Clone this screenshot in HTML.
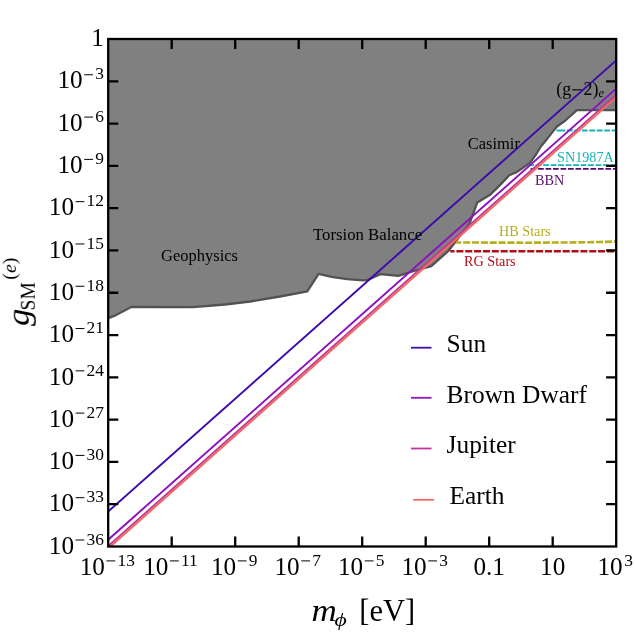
<!DOCTYPE html>
<html><head><meta charset="utf-8"><title>plot</title>
<style>html,body{margin:0;padding:0;background:#fff;}svg{display:block;}text{font-family:"Liberation Serif",serif;}</style>
</head><body>
<svg width="635" height="635" viewBox="0 0 635 635">
<rect width="635" height="635" fill="#ffffff"/>
<defs><clipPath id="cp"><rect x="108.2" y="39.0" width="508.00000000000006" height="507.5"/></clipPath></defs>
<g clip-path="url(#cp)">
<polygon points="108.2,39.0 108.2,318.2 114.2,315.9 131.2,306.9 193,307.2 225,304.5 250,301.5 280,296.5 307.3,291.3 318.6,273.9 331.5,276.8 347.2,279.1 363,280.4 367.7,279.9 380.3,274.1 398.5,275.8 412.4,271.4 431.3,266.2 448.3,251 469.7,223.2 477.3,202.4 490.5,194.4 500.4,184.6 509.2,175.3 516,172.5 522.5,168.1 530.2,162.6 535.7,154.9 541.2,146.0 546.7,139.4 554.4,129.6 557.3,126.2 565.4,120.5 576.9,110.2 616.2,110.1 616.2,39.0" fill="#808080"/>
<polyline points="108.2,318.2 114.2,315.9 131.2,306.9 193,307.2 225,304.5 250,301.5 280,296.5 307.3,291.3 318.6,273.9 331.5,276.8 347.2,279.1 363,280.4 367.7,279.9 380.3,274.1 398.5,275.8 412.4,271.4 431.3,266.2 448.3,251 469.7,223.2 477.3,202.4 490.5,194.4 500.4,184.6 509.2,175.3 516,172.5 522.5,168.1 530.2,162.6 535.7,154.9 541.2,146.0 546.7,139.4 554.4,129.6 557.3,126.2 565.4,120.5 576.9,110.2 616.2,110.1" fill="none" stroke="#525252" stroke-width="2.3" stroke-linejoin="round"/>
<line x1="556.5" y1="130.5" x2="565.4" y2="130.5" stroke="#18b3b8" stroke-width="1.8"/>
<line x1="566.95" y1="130.5" x2="616.2" y2="130.5" stroke="#18b3b8" stroke-width="1.8" stroke-dasharray="5.85,1.6"/>
<line x1="528.2" y1="165.2" x2="616.2" y2="165.2" stroke="#18b3b8" stroke-width="1.8" stroke-dasharray="5.85,1.63"/>
<line x1="530.6" y1="168.85" x2="616.2" y2="168.85" stroke="#5b0b6c" stroke-width="1.8" stroke-dasharray="5.7,1.78"/>
<polyline points="456.0,242.5 530,242.7 575,242.4 600,242.0 616.2,241.5" fill="none" stroke="#b4af1b" stroke-width="2.6" stroke-dasharray="7.06,1.8" stroke-dashoffset="1.72"/>
<line x1="450.2" y1="251.3" x2="616.2" y2="251.3" stroke="#b00d16" stroke-width="2.6" stroke-dasharray="7.06,1.8" stroke-dashoffset="2.72"/>
<line x1="108.2" y1="511.5" x2="616.2" y2="60.39" stroke="#3a08ad" stroke-width="1.9"/>
<line x1="108.2" y1="539.7" x2="616.2" y2="88.59" stroke="#8a10c0" stroke-width="1.9"/>
<line x1="108.2" y1="546.0" x2="616.2" y2="94.89" stroke="#c2369a" stroke-width="1.8"/>
<line x1="108.2" y1="548.4" x2="616.2" y2="97.29" stroke="#ee6a62" stroke-width="2.1"/>
</g>
<rect x="108.2" y="39.0" width="508.00000000000006" height="507.5" fill="none" stroke="#000" stroke-width="2.3"/>
<path d="M171.70,546.5v-10.1M171.70,39.0v10.1M235.20,546.5v-10.1M235.20,39.0v10.1M298.70,546.5v-10.1M298.70,39.0v10.1M362.20,546.5v-10.1M362.20,39.0v10.1M425.70,546.5v-10.1M425.70,39.0v10.1M489.20,546.5v-10.1M489.20,39.0v10.1M552.70,546.5v-10.1M552.70,39.0v10.1M108.2,504.21h10.1M616.2,504.21h-10.1M108.2,461.92h10.1M616.2,461.92h-10.1M108.2,419.62h10.1M616.2,419.62h-10.1M108.2,377.33h10.1M616.2,377.33h-10.1M108.2,335.04h10.1M616.2,335.04h-10.1M108.2,292.75h10.1M616.2,292.75h-10.1M108.2,250.46h10.1M616.2,250.46h-10.1M108.2,208.17h10.1M616.2,208.17h-10.1M108.2,165.88h10.1M616.2,165.88h-10.1M108.2,123.58h10.1M616.2,123.58h-10.1M108.2,81.29h10.1M616.2,81.29h-10.1" stroke="#000" stroke-width="2.3" fill="none"/>
<g opacity="0.999">
<text x="103.9" y="46.0" font-size="25.2" text-anchor="end">1</text>
<text x="74.00" y="553.70" font-size="25.2" text-anchor="end">10</text>
<line x1="75.60" y1="540.00" x2="84.40" y2="540.00" stroke="#000" stroke-width="1"/>
<text x="86.60" y="544.70" font-size="17.4">36</text>
<text x="74.00" y="511.41" font-size="25.2" text-anchor="end">10</text>
<line x1="75.60" y1="497.71" x2="84.40" y2="497.71" stroke="#000" stroke-width="1"/>
<text x="86.60" y="502.41" font-size="17.4">33</text>
<text x="74.00" y="469.12" font-size="25.2" text-anchor="end">10</text>
<line x1="75.60" y1="455.42" x2="84.40" y2="455.42" stroke="#000" stroke-width="1"/>
<text x="86.60" y="460.12" font-size="17.4">30</text>
<text x="74.00" y="426.82" font-size="25.2" text-anchor="end">10</text>
<line x1="75.60" y1="413.12" x2="84.40" y2="413.12" stroke="#000" stroke-width="1"/>
<text x="86.60" y="417.82" font-size="17.4">27</text>
<text x="74.00" y="384.53" font-size="25.2" text-anchor="end">10</text>
<line x1="75.60" y1="370.83" x2="84.40" y2="370.83" stroke="#000" stroke-width="1"/>
<text x="86.60" y="375.53" font-size="17.4">24</text>
<text x="74.00" y="342.24" font-size="25.2" text-anchor="end">10</text>
<line x1="75.60" y1="328.54" x2="84.40" y2="328.54" stroke="#000" stroke-width="1"/>
<text x="86.60" y="333.24" font-size="17.4">21</text>
<text x="74.00" y="299.95" font-size="25.2" text-anchor="end">10</text>
<line x1="75.60" y1="286.25" x2="84.40" y2="286.25" stroke="#000" stroke-width="1"/>
<text x="86.60" y="290.95" font-size="17.4">18</text>
<text x="74.00" y="257.66" font-size="25.2" text-anchor="end">10</text>
<line x1="75.60" y1="243.96" x2="84.40" y2="243.96" stroke="#000" stroke-width="1"/>
<text x="86.60" y="248.66" font-size="17.4">15</text>
<text x="74.00" y="215.37" font-size="25.2" text-anchor="end">10</text>
<line x1="75.60" y1="201.67" x2="84.40" y2="201.67" stroke="#000" stroke-width="1"/>
<text x="86.60" y="206.37" font-size="17.4">12</text>
<text x="82.60" y="173.07" font-size="25.2" text-anchor="end">10</text>
<line x1="84.20" y1="159.38" x2="93.00" y2="159.38" stroke="#000" stroke-width="1"/>
<text x="95.20" y="164.07" font-size="17.4">9</text>
<text x="82.60" y="130.78" font-size="25.2" text-anchor="end">10</text>
<line x1="84.20" y1="117.08" x2="93.00" y2="117.08" stroke="#000" stroke-width="1"/>
<text x="95.20" y="121.78" font-size="17.4">6</text>
<text x="82.60" y="88.49" font-size="25.2" text-anchor="end">10</text>
<line x1="84.20" y1="74.79" x2="93.00" y2="74.79" stroke="#000" stroke-width="1"/>
<text x="95.20" y="79.49" font-size="17.4">3</text>
<text x="104.85" y="574.60" font-size="25.2" text-anchor="end">10</text>
<line x1="106.45" y1="560.90" x2="115.25" y2="560.90" stroke="#000" stroke-width="1"/>
<text x="117.45" y="565.60" font-size="17.4">13</text>
<text x="168.35" y="574.60" font-size="25.2" text-anchor="end">10</text>
<line x1="169.95" y1="560.90" x2="178.75" y2="560.90" stroke="#000" stroke-width="1"/>
<text x="180.95" y="565.60" font-size="17.4">11</text>
<text x="236.15" y="574.60" font-size="25.2" text-anchor="end">10</text>
<line x1="237.75" y1="560.90" x2="246.55" y2="560.90" stroke="#000" stroke-width="1"/>
<text x="248.75" y="565.60" font-size="17.4">9</text>
<text x="299.65" y="574.60" font-size="25.2" text-anchor="end">10</text>
<line x1="301.25" y1="560.90" x2="310.05" y2="560.90" stroke="#000" stroke-width="1"/>
<text x="312.25" y="565.60" font-size="17.4">7</text>
<text x="363.15" y="574.60" font-size="25.2" text-anchor="end">10</text>
<line x1="364.75" y1="560.90" x2="373.55" y2="560.90" stroke="#000" stroke-width="1"/>
<text x="375.75" y="565.60" font-size="17.4">5</text>
<text x="426.65" y="574.60" font-size="25.2" text-anchor="end">10</text>
<line x1="428.25" y1="560.90" x2="437.05" y2="560.90" stroke="#000" stroke-width="1"/>
<text x="439.25" y="565.60" font-size="17.4">3</text>
<text x="489.20000000000005" y="574.6" font-size="25.2" text-anchor="middle">0.1</text>
<text x="552.7" y="574.6" font-size="25.2" text-anchor="middle">10</text>
<text x="622.60" y="574.60" font-size="25.2" text-anchor="end">10</text>
<text x="624.20" y="565.60" font-size="17.4">3</text>
<g transform="translate(311.6,620.8) scale(1.13,1)"><text x="0" y="0" font-size="31" font-style="italic">m</text></g>
<g transform="translate(334.6,625.5) scale(1.25,1)"><text x="0" y="0" font-size="19" font-style="italic">ϕ</text></g>
<text x="359.3" y="620.8" font-size="30.5">[eV]</text>
<g transform="translate(28.8,326) rotate(-90)">
<g transform="scale(1.12,1)"><text x="0" y="0" font-size="31" font-style="italic">g</text></g>
<text x="15.6" y="6.3" font-size="21" textLength="28.2" lengthAdjust="spacingAndGlyphs">SM</text>
<text x="46.3" y="-12.6" font-size="19.8">(<tspan font-style="italic">e</tspan>)</text>
</g>
<text x="161" y="261" font-size="16.5">Geophysics</text>
<text x="313" y="240" font-size="16.75">Torsion Balance</text>
<text x="467.7" y="148.7" font-size="16.5">Casimir</text>
<text x="556.3" y="94.8" font-size="18">(g</text>
<line x1="572.2" y1="89.8" x2="581.7" y2="89.8" stroke="#000" stroke-width="1.1"/>
<text x="583.6" y="94.8" font-size="18">2)</text>
<text x="598.6" y="97.4" font-size="12.5" font-style="italic">e</text>
<text x="557" y="162.3" font-size="14.2" fill="#18b3b8">SN1987A</text>
<text x="535" y="184.5" font-size="14.2" fill="#5b0b6c">BBN</text>
<text x="499" y="235.6" font-size="14.2" fill="#b4af1b">HB Stars</text>
<text x="464" y="266" font-size="14.2" fill="#b00d16">RG Stars</text>
<line x1="411" y1="347.7" x2="431.5" y2="347.7" stroke="#3f0cb4" stroke-width="1.8"/>
<text x="446.6" y="352.1" font-size="25.4">Sun</text>
<line x1="411" y1="397.8" x2="431.5" y2="397.8" stroke="#9417c6" stroke-width="1.8"/>
<text x="446.6" y="402.8" font-size="25.4">Brown Dwarf</text>
<line x1="411" y1="448.5" x2="431.5" y2="448.5" stroke="#c2369a" stroke-width="1.8"/>
<text x="446.6" y="452.9" font-size="25.4">Jupiter</text>
<line x1="413.2" y1="499.8" x2="434" y2="499.8" stroke="#ee6a62" stroke-width="1.8"/>
<text x="449.4" y="504.3" font-size="25.4">Earth</text>
</g>
</svg></body></html>
